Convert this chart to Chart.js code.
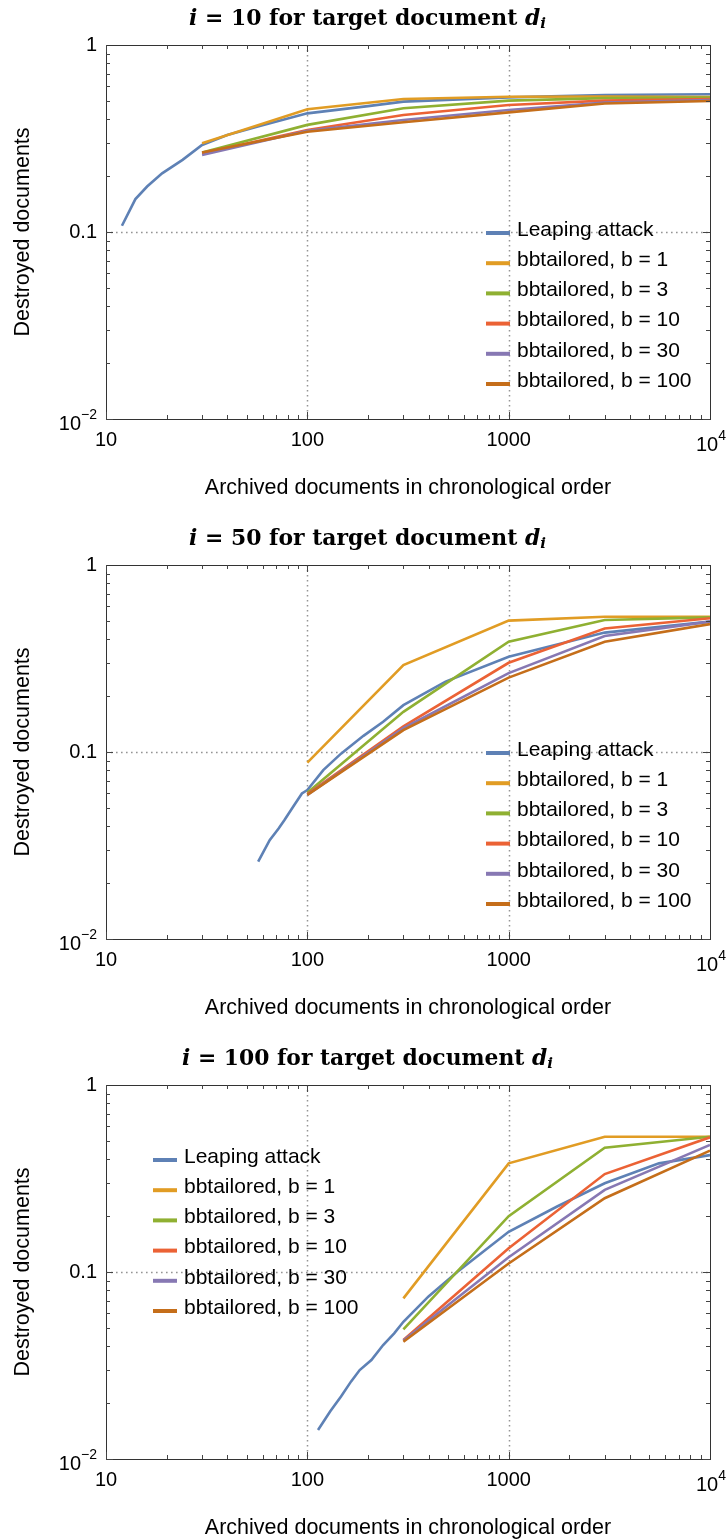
<!DOCTYPE html>
<html>
<head>
<meta charset="utf-8">
<script src="https://cdn.jsdelivr.net/npm/chart.js@4.4.1/dist/chart.umd.min.js"></script>
<style>
  html, body { margin: 0; padding: 0; background: #fff; overflow: hidden; }
  .panel { position: relative; width: 727px; }
</style>
</head>
<body>
<div class="panel" style="height:520px"><canvas id="chart1"></canvas></div>
<div class="panel" style="height:520px"><canvas id="chart2"></canvas></div>
<div class="panel" style="height:499px"><canvas id="chart3"></canvas></div>
<script>
'use strict';

//========== Data ==========
let seriesNames = ['Leaping attack', 'bbtailored, b = 1', 'bbtailored, b = 3', 'bbtailored, b = 10', 'bbtailored, b = 30', 'bbtailored, b = 100'];
let seriesColors = ['#5E81B5', '#E19C24', '#8FB032', '#EB6235', '#8778B3', '#C56E1A'];
let xTicks = [10, 100, 1000, 10000];
let yTicks = [1, 0.1, 0.01];

// i = 10
let p1LeapX = [12, 14, 16, 19, 24, 30, 40, 58, 100, 200, 300, 1000, 3000, 10000];
let p1LeapY = [0.108, 0.150, 0.175, 0.206, 0.243, 0.292, 0.330, 0.369, 0.431, 0.471, 0.498, 0.525, 0.540, 0.545];
let p1TailX = [30, 100, 300, 1000, 3000, 10000];
let p1B1 = [0.298, 0.453, 0.514, 0.529, 0.530, 0.527];
let p1B3 = [0.266, 0.374, 0.459, 0.504, 0.520, 0.524];
let p1B10 = [0.263, 0.351, 0.422, 0.478, 0.504, 0.514];
let p1B30 = [0.258, 0.348, 0.397, 0.449, 0.492, 0.508];
let p1B100 = [0.266, 0.344, 0.386, 0.436, 0.487, 0.502];

// i = 50
let p2LeapX = [57, 65, 72, 77, 85, 94, 100, 120, 147, 190, 238, 300, 486, 1000, 3000, 10000];
let p2LeapY = [0.0259, 0.0338, 0.039, 0.0433, 0.051, 0.060, 0.0626, 0.080, 0.098, 0.122, 0.145, 0.178, 0.238, 0.323, 0.435, 0.498];
let p2TailX = [100, 300, 1000, 3000, 10000];
let p2B1 = [0.0877, 0.292, 0.504, 0.529, 0.529];
let p2B3 = [0.0606, 0.164, 0.389, 0.508, 0.525];
let p2B10 = [0.0596, 0.137, 0.300, 0.458, 0.519];
let p2B30 = [0.059, 0.134, 0.264, 0.417, 0.498];
let p2B100 = [0.059, 0.131, 0.250, 0.389, 0.483];

// i = 100
let p3LeapX = [113, 130, 147, 165, 182, 208, 238, 270, 300, 400, 555, 1000, 1740, 3000, 5580, 10000];
let p3LeapY = [0.0143, 0.018, 0.0216, 0.026, 0.0299, 0.0338, 0.0407, 0.047, 0.0542, 0.074, 0.100, 0.164, 0.224, 0.298, 0.381, 0.422];
let p3TailX = [300, 1000, 3000, 10000];
let p3B1 = [0.0723, 0.381, 0.529, 0.529];
let p3B3 = [0.0494, 0.199, 0.462, 0.529];
let p3B10 = [0.0433, 0.134, 0.334, 0.525];
let p3B30 = [0.043, 0.120, 0.275, 0.478];
let p3B100 = [0.0424, 0.111, 0.248, 0.446];

let SANS = '"Liberation Sans", Arial, sans-serif';

//========== Helpers ==========
function toPoints(xs, ys) {
  return xs.map((x, i) => ({ x: x, y: ys[i] }));
}

function drawTitle(ctx, cx, cy, iValue) {
  // build at a reference size, then scale so the title is ~357px wide like the original
  let serif = '"DejaVu Serif", "Liberation Serif", serif';
  let build = (s) => [
    { t: 'i', f: 'italic bold ' + s + 'px ' + serif, dy: 0 },
    { t: ' = ' + iValue + ' for target document ', f: 'bold ' + s + 'px ' + serif, dy: 0 },
    { t: 'd', f: 'italic bold ' + s + 'px ' + serif, dy: 0 },
    { t: 'i', f: 'italic bold ' + Math.round(s * 0.68) + 'px ' + serif, dy: s * 0.22 }
  ];
  let measure = (parts) => {
    let total = 0;
    parts.forEach(p => { ctx.font = p.f; p.w = ctx.measureText(p.t).width; total += p.w; });
    return total;
  };
  let target = iValue >= 100 ? 371 : 357;
  let size = 24 * target / measure(build(24));
  if (size > 25) size = 25;
  let parts = build(size);
  let total = measure(parts);
  let x = cx - total / 2;
  ctx.fillStyle = '#000';
  ctx.textAlign = 'left';
  ctx.textBaseline = 'middle';
  parts.forEach(p => { ctx.font = p.f; ctx.fillText(p.t, x, cy + p.dy); x += p.w; });
}

function drawPow(ctx, base, exp, xRight, cy) {
  ctx.font = '20px ' + SANS;
  let wb = ctx.measureText(base).width;
  ctx.font = '14px ' + SANS;
  let we = ctx.measureText(exp).width;
  let x = xRight - wb - we;
  ctx.textAlign = 'left';
  ctx.font = '20px ' + SANS;
  ctx.fillText(base, x, cy);
  ctx.font = '14px ' + SANS;
  ctx.fillText(exp, x + wb, cy - 9);
}

//========== Frame / legend plugin ==========
let framePlugin = {
  id: 'mathFrame',
  beforeDatasetsDraw(chart) {
    let ctx = chart.ctx;
    let a = chart.chartArea;
    let xs = chart.scales.x;
    let ys = chart.scales.y;
    ctx.save();
    ctx.strokeStyle = 'rgba(0,0,0,0.42)';
    ctx.lineWidth = 1.5;
    ctx.setLineDash([1.6, 3.4]);
    [100, 1000].forEach(v => {
      let px = Math.round(xs.getPixelForValue(v)) + 0.5;
      ctx.beginPath(); ctx.moveTo(px, a.top); ctx.lineTo(px, a.bottom); ctx.stroke();
    });
    let py = Math.round(ys.getPixelForValue(0.1)) + 0.5;
    ctx.beginPath(); ctx.moveTo(a.left, py); ctx.lineTo(a.right, py); ctx.stroke();
    ctx.restore();
  },
  afterDatasetsDraw(chart, args, opts) {
    let ctx = chart.ctx;
    let a = chart.chartArea;
    let xs = chart.scales.x;
    let ys = chart.scales.y;
    ctx.save();
    // frame
    ctx.strokeStyle = '#333';
    ctx.lineWidth = 1;
    ctx.strokeRect(Math.round(a.left) + 0.5, Math.round(a.top) + 0.5, Math.round(a.right - a.left), Math.round(a.bottom - a.top));
    // inward ticks
    ctx.strokeStyle = '#444';
    for (let d = 10; d < 10000; d *= 10) {
      for (let k = 1; k <= 9; k++) {
        let len = k === 1 ? 7 : 4;
        let px = Math.round(xs.getPixelForValue(d * k)) + 0.5;
        ctx.beginPath();
        ctx.moveTo(px, a.bottom); ctx.lineTo(px, a.bottom - len);
        ctx.moveTo(px, a.top); ctx.lineTo(px, a.top + len);
        ctx.stroke();
      }
    }
    for (let d = 0.01; d < 1; d *= 10) {
      for (let k = 1; k <= 9; k++) {
        let len = k === 1 ? 7 : 4;
        let py = Math.round(ys.getPixelForValue(d * k)) + 0.5;
        ctx.beginPath();
        ctx.moveTo(a.left, py); ctx.lineTo(a.left + len, py);
        ctx.moveTo(a.right, py); ctx.lineTo(a.right - len, py);
        ctx.stroke();
      }
    }
    // tick labels
    ctx.fillStyle = '#000';
    ctx.textBaseline = 'middle';
    xTicks.forEach(v => {
      let px = xs.getPixelForValue(v);
      if (v === 10000) {
        drawPow(ctx, '10', '4', px + 16, a.bottom + 26);
      } else {
        ctx.font = '20px ' + SANS;
        ctx.textAlign = 'center';
        ctx.fillText(String(v), px, a.bottom + 21);
      }
    });
    yTicks.forEach(v => {
      let py = ys.getPixelForValue(v);
      if (v === 0.01) {
        drawPow(ctx, '10', '\u22122', a.left - 9, py + 5);
      } else {
        ctx.font = '20px ' + SANS;
        ctx.textAlign = 'right';
        ctx.fillText(String(v), a.left - 9, py);
      }
    });
    // axis titles
    ctx.font = '21.5px ' + SANS;
    ctx.textAlign = 'center';
    ctx.fillText('Archived documents in chronological order', (a.left + a.right) / 2, a.bottom + 69);
    ctx.save();
    ctx.translate(23, (a.top + a.bottom) / 2);
    ctx.rotate(-Math.PI / 2);
    ctx.fillText('Destroyed documents', 0, 0);
    ctx.restore();
    // title
    drawTitle(ctx, chart.width / 2 + 4, 19, opts.iValue);
    // legend
    ctx.font = '21px ' + SANS;
    ctx.textAlign = 'left';
    chart.data.datasets.forEach((ds, i) => {
      let ly = opts.legendY + i * 30.2;
      ctx.strokeStyle = ds.borderColor;
      ctx.lineWidth = 4;
      ctx.setLineDash([]);
      ctx.beginPath();
      ctx.moveTo(opts.legendX, ly); ctx.lineTo(opts.legendX + 24, ly);
      ctx.stroke();
      ctx.fillStyle = '#000';
      ctx.fillText(ds.label, opts.legendX + 31, ly - 3);
    });
    ctx.restore();
  }
};

function makePanel(canvasId, iValue, leapX, leapY, tailX, tailSeries, legendX, legendY) {
  let el = document.getElementById(canvasId);
  let h = el.parentNode.clientHeight;
  let datasets = [{
    label: seriesNames[0],
    data: toPoints(leapX, leapY),
    borderColor: seriesColors[0],
    order: 6
  }];
  tailSeries.forEach((ys, i) => {
    datasets.push({
      label: seriesNames[i + 1],
      data: toPoints(tailX, ys),
      borderColor: seriesColors[i + 1],
      order: 5 - i
    });
  });
  return new Chart(el.getContext('2d'), {
    type: 'line',
    data: { datasets: datasets },
    options: {
      responsive: true,
      maintainAspectRatio: false,
      animation: false,
      events: [],
      layout: { padding: { left: 106, right: 17, top: 45, bottom: h - 419 } },
      scales: {
        x: { type: 'logarithmic', min: 10, max: 10000, display: false },
        y: { type: 'logarithmic', min: 0.01, max: 1, display: false }
      },
      elements: {
        point: { radius: 0 },
        line: { borderWidth: 2.6, tension: 0, fill: false }
      },
      plugins: {
        legend: { display: false },
        tooltip: { enabled: false },
        mathFrame: { iValue: iValue, legendX: legendX, legendY: legendY }
      }
    },
    plugins: [framePlugin]
  });
}

makePanel('chart1', 10, p1LeapX, p1LeapY, p1TailX, [p1B1, p1B3, p1B10, p1B30, p1B100], 486, 233);
makePanel('chart2', 50, p2LeapX, p2LeapY, p2TailX, [p2B1, p2B3, p2B10, p2B30, p2B100], 486, 233);
makePanel('chart3', 100, p3LeapX, p3LeapY, p3TailX, [p3B1, p3B3, p3B10, p3B30, p3B100], 153, 120);
</script>
</body>
</html>
